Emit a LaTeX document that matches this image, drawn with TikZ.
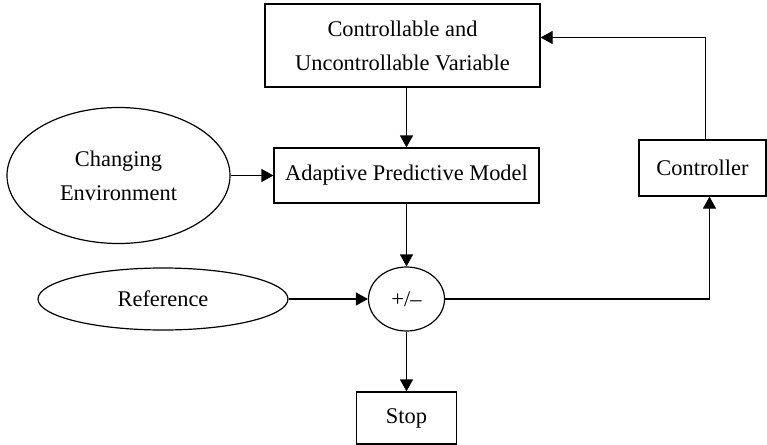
\documentclass[tikz,border=0pt]{standalone}
\usepackage{fontspec}
\setmainfont{Liberation Serif}
\usepackage{tikz}
\usetikzlibrary{shapes.geometric, arrows.meta, positioning}

\begin{document}
\begin{tikzpicture}[x=0.5pt,y=-0.5pt,line width=0.6pt,
  >={Triangle[length=6pt,width=6.5pt]},
  font=\fontsize{11.2}{17}\selectfont]
 \tikzstyle{block}=[rectangle,draw=black,align=center,inner sep=2pt]
 \tikzstyle{oval}=[ellipse,draw=black,align=center,inner sep=1pt]
 \useasboundingbox (0,0) rectangle (767,445);
 \node (vars) [block,minimum width=137.5pt,minimum height=41.5pt] at (402.5,45.5)
   {Controllable and\\Uncontrollable Variable};
 \node (apm) [block,minimum width=132.5pt,minimum height=27.5pt] at (406.5,175.5)
   {Adaptive Predictive Model};
 \node (env) [oval,minimum width=111.5pt,minimum height=68pt] at (118.5,175.5)
   {Changing\\Environment};
 \node (sum) [oval,minimum width=38pt,minimum height=32pt] at (406.5,299) {+/--};
 \node (ref) [oval,minimum width=125pt,minimum height=31pt] at (163,299) {Reference};
 \node (stop) [block,minimum width=50pt,minimum height=26pt] at (406.5,418) {Stop};
 \node (ctrl) [block,minimum width=63.5pt,minimum height=28pt] at (702.5,168) {Controller};
 % flow
 \draw[->] (vars.south -| apm.north) -- (apm);
 \draw[->] (env) -- (apm);
 \draw[->] (apm) -- (sum);
 \draw[->] (ref) -- (sum);
 \draw[->] (sum) -- (stop);
 \draw[->] (sum) -| ([xshift=3.5pt]ctrl.south);
 \draw[->] ([xshift=1.5pt]ctrl.north) |- ([yshift=4pt]vars.east);
\end{tikzpicture}
\end{document}
